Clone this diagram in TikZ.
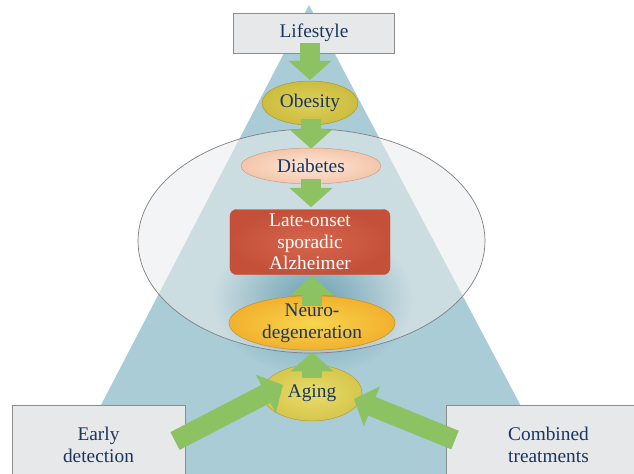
\documentclass[tikz,border=0pt]{standalone}
\usepackage{fontspec}
\setmainfont{Liberation Serif}
\usetikzlibrary{arrows.meta,fadings,shapes.geometric}
\definecolor{tri}{HTML}{A9CCD6}
\definecolor{boxfill}{HTML}{E7E8EA}
\definecolor{boxline}{HTML}{8C8C8C}
\definecolor{navy}{HTML}{1B365D}
\definecolor{agreen}{HTML}{8DC262}
\definecolor{obes}{HTML}{CDBD3E}
\definecolor{obesl}{HTML}{DDD05C}
\definecolor{diab}{HTML}{F4C6AA}
\definecolor{diabl}{HTML}{FCE7DA}
\definecolor{alz}{HTML}{C4503A}
\definecolor{alzl}{HTML}{D7664E}
\definecolor{neuro}{HTML}{F2B12E}
\definecolor{neurol}{HTML}{F8D54E}
\definecolor{aging}{HTML}{D6C64C}
\definecolor{agingl}{HTML}{E8DC6A}
\definecolor{glow}{HTML}{4A8AA2}
\definecolor{bigell}{HTML}{E9EBED}
\tikzfading[name=glowfade, inner color=transparent!0, outer color=transparent!100]
\begin{document}
\begin{tikzpicture}[x=0.03cm,y=-0.03cm,
  every node/.style={font=\fontsize{16.5}{18.5}\selectfont, text=navy, align=center, inner sep=0pt},
  graybox/.style={rectangle, fill=boxfill, draw=boxline, line width=0.8pt},
  oval/.style={ellipse, draw=#1!80!black, line width=0.4pt},
  bigarrow/.style={draw=agreen, line width=0.6cm, -{Triangle[width=1.26cm,length=0.58cm]}}]
\useasboundingbox (0,0) rectangle (634,474);
% background triangle
\fill[tri] (309,5) -- (62,480) -- (560,480) -- cycle;
% big translucent ellipse
\fill[bigell, fill opacity=0.55] (311.5,241) ellipse [x radius=173.5, y radius=112];
% glow under the Alzheimer box
\fill[glow, path fading=glowfade, fill opacity=0.75] (313,300) ellipse [x radius=100, y radius=75];
\draw[gray, line width=0.6pt] (311.5,241) ellipse [x radius=173.5, y radius=112];
% nodes
\node[graybox, minimum width=4.83cm, minimum height=1.2cm] (life) at (314,33) {Lifestyle};
\node[oval=obes, inner color=obesl, outer color=obes, minimum width=2.88cm, minimum height=1.32cm] (obes) at (310,103) {Obesity};
\node[oval=diab, inner color=diabl, outer color=diab, minimum width=4.2cm, minimum height=1.08cm] (diab) at (311,166) {Diabetes};
\node[rectangle, rounded corners=0.2cm, inner color=alzl, outer color=alz, draw=alz, text=white, minimum width=4.8cm, minimum height=1.95cm] (alz) at (310,242) {Late-onset\\sporadic\\Alzheimer};
\node[oval=neuro, inner color=neurol, outer color=neuro, minimum width=4.98cm, minimum height=1.5cm] (neuro) at (312,323) {Neuro-\\degeneration};
\node[oval=aging, inner color=agingl, outer color=aging, minimum width=3.0cm, minimum height=1.68cm] (aging) at (312,393) {Aging};
\node[graybox, minimum width=5.19cm, minimum height=2.4cm] (early) at (98.5,445) {Early\\detection};
\node[graybox, minimum width=6.1cm, minimum height=2.4cm] (comb) at (548.5,445) {Combined\\treatments};
% arrows
\draw[bigarrow] ([yshift=0.3cm]obes.north |- life.south) -- ([yshift=0.02cm]obes.north);
\draw[bigarrow] ([yshift=0.2cm]obes.south -| diab.north) -- ([yshift=-0.03cm]diab.north);
\draw[bigarrow] ([yshift=0.15cm]diab.south) -- ([yshift=0.06cm]diab.south |- alz.north);
\draw[bigarrow] ([yshift=-0.3cm]neuro.north) -- ([yshift=-0.03cm]neuro.north |- alz.south);
\draw[bigarrow] ([yshift=-0.4cm]aging.north) -- ([yshift=-0.05cm]neuro.south);
\coordinate (etail) at (175,441);
\coordinate (ctail) at (455,440);
\draw[bigarrow] (etail) -- ([shift={(-29,-8)}]aging.center);
\draw[bigarrow] (ctail) -- ([shift={(42,6)}]aging.center);
\end{tikzpicture}
\end{document}
